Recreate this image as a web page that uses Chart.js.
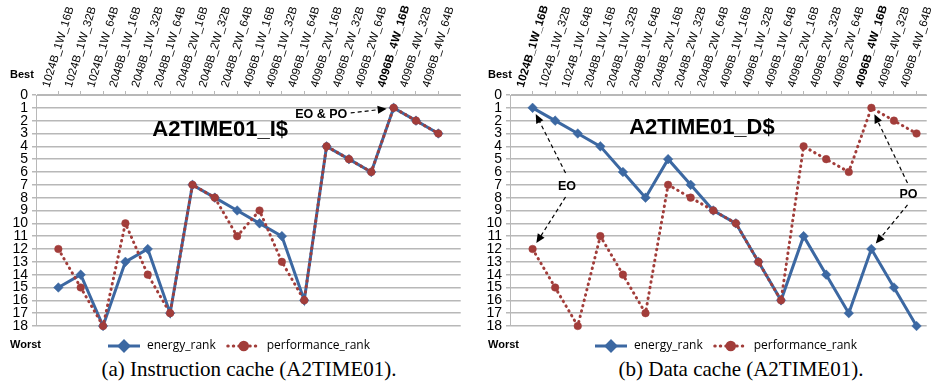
<!DOCTYPE html>
<html>
<head>
<meta charset="utf-8">
<script src="https://cdn.jsdelivr.net/npm/chart.js@4.4.1/dist/chart.umd.min.js"></script>
<style>
  body { margin: 0; background: #fff; width: 932px; height: 391px; overflow: hidden; position: relative; }
  .box { position: absolute; top: 0; width: 466px; height: 356px; }
  .cap { position: absolute; top: 357px; font: 21px "Liberation Serif"; color: #000; white-space: nowrap; transform: translateX(-50%); }
</style>
</head>
<body>
<div class="box" style="left:0"><canvas id="chartA" width="466" height="356"></canvas></div>
<div class="box" style="left:466px"><canvas id="chartB" width="466" height="356"></canvas></div>
<div class="cap" style="left:249px">(a) Instruction cache (A2TIME01).</div>
<div class="cap" style="left:741px">(b) Data cache (A2TIME01).</div>

<script>
// --- data ---
const categories = [
  "1024B_1W_16B", "1024B_1W_32B", "1024B_1W_64B",
  "2048B_1W_16B", "2048B_1W_32B", "2048B_1W_64B",
  "2048B_2W_16B", "2048B_2W_32B", "2048B_2W_64B",
  "4096B_1W_16B", "4096B_1W_32B", "4096B_1W_64B",
  "4096B_2W_16B", "4096B_2W_32B", "4096B_2W_64B",
  "4096B_4W_16B", "4096B_4W_32B", "4096B_4W_64B"
];

// instruction cache
const energyRankI = [15, 14, 18, 13, 12, 17, 7, 8, 9, 10, 11, 16, 4, 5, 6, 1, 2, 3];
const perfRankI   = [12, 15, 18, 10, 14, 17, 7, 8, 11, 9, 13, 16, 4, 5, 6, 1, 2, 3];
const boldLabelsI = [15];

// data cache
const energyRankD = [1, 2, 3, 4, 6, 8, 5, 7, 9, 10, 13, 16, 11, 14, 17, 12, 15, 18];
const perfRankD   = [12, 15, 18, 11, 14, 17, 7, 8, 9, 10, 13, 16, 4, 5, 6, 1, 2, 3];
const boldLabelsD = [0, 15];

const rankMin = 0, rankMax = 18;

const BLUE = "#3c68a2";
const RED = "#a23d3a";
const GRID = "#b8b8b8";

// --- extra drawing: title, notes, arrows, Best/Worst, legend ---
function arrow(ctx, x1, y1, x2, y2) {
  const ang = Math.atan2(y2 - y1, x2 - x1);
  const ex = x2 - Math.cos(ang) * 7, ey = y2 - Math.sin(ang) * 7;
  ctx.save();
  ctx.strokeStyle = "#000";
  ctx.lineWidth = 1.2;
  ctx.setLineDash([4, 3]);
  ctx.beginPath();
  ctx.moveTo(x1, y1);
  ctx.lineTo(ex - Math.cos(ang) * 6, ey - Math.sin(ang) * 6);
  ctx.stroke();
  ctx.setLineDash([]);
  ctx.fillStyle = "#000";
  ctx.beginPath();
  ctx.moveTo(ex, ey);
  ctx.lineTo(ex - Math.cos(ang) * 9 + Math.sin(ang) * 4, ey - Math.sin(ang) * 9 - Math.cos(ang) * 4);
  ctx.lineTo(ex - Math.cos(ang) * 9 - Math.sin(ang) * 4, ey - Math.sin(ang) * 9 + Math.cos(ang) * 4);
  ctx.closePath();
  ctx.fill();
  ctx.restore();
}

const decor = {
  id: "decor",
  afterDraw(chart, args, o) {
    const { ctx } = chart;
    const xs = chart.scales.x, ys = chart.scales.y;
    const px = p => [xs.getPixelForValue(p[0]), ys.getPixelForValue(p[1])];
    ctx.save();
    ctx.fillStyle = "#000";
    ctx.textAlign = "center";
    ctx.textBaseline = "middle";
    ctx.font = 'bold 22px "Liberation Sans"';
    const t = px(o.titleAt);
    ctx.fillText(o.title, t[0], t[1]);

    ctx.font = 'bold 12.5px "Liberation Sans"';
    o.notes.forEach(n => {
      const p = px(n.at);
      ctx.fillText(n.text, p[0], p[1]);
    });
    o.arrows.forEach(a => {
      const f = px(a[0]), e = px(a[1]);
      arrow(ctx, f[0], f[1], e[0], e[1]);
    });

    ctx.textAlign = "left";
    ctx.font = 'bold 11px "Liberation Sans"';
    ctx.fillText("Best", o.bestX, 75);
    ctx.fillText("Worst", o.bestX, 345);

    // legend
    let lx = o.legendX;
    const ly = 346;
    [0, 1].forEach(i => {
      const ds = chart.data.datasets[i];
      ctx.save();
      ctx.strokeStyle = ds.borderColor;
      ctx.lineWidth = ds.borderWidth;
      ctx.lineCap = ds.borderCapStyle || "butt";
      ctx.setLineDash(ds.borderDash || []);
      ctx.beginPath();
      ctx.moveTo(lx, ly);
      ctx.lineTo(lx + 32, ly);
      ctx.stroke();
      ctx.setLineDash([]);
      ctx.fillStyle = ds.pointBackgroundColor;
      ctx.strokeStyle = ds.pointBorderColor;
      Chart.helpers.drawPoint(ctx, { pointStyle: ds.pointStyle, radius: ds.pointRadius, borderWidth: 1, rotation: 0 }, lx + 16, ly);
      ctx.restore();
      ctx.font = '12px "Open Sans"';
      ctx.fillStyle = "#000";
      ctx.fillText(ds.label, lx + 39, ly);
      lx += 39 + ctx.measureText(ds.label).width + 12;
    });
    ctx.restore();
  }
};

function makeChart(id, energy, perf, bold, opts) {
  const ctx = document.getElementById(id).getContext("2d");
  return new Chart(ctx, {
    type: "line",
    data: {
      datasets: [{
        label: "energy_rank",
        data: energy.map((v, i) => ({ x: i + 1, y: v })),
        borderColor: BLUE,
        borderWidth: 3,
        pointStyle: "rectRot",
        pointRadius: 4.8,
        pointBackgroundColor: BLUE,
        pointBorderColor: BLUE,
        pointBorderWidth: 0.5,
        clip: false,
        order: 1
      }, {
        label: "performance_rank",
        data: perf.map((v, i) => ({ x: i + 1, y: v })),
        borderColor: RED,
        borderWidth: 3,
        borderDash: [0.5, 5],
        borderCapStyle: "round",
        pointStyle: "circle",
        pointRadius: 3.8,
        pointBackgroundColor: RED,
        pointBorderColor: RED,
        pointBorderWidth: 0.5,
        clip: false,
        order: 0
      }]
    },
    options: {
      responsive: false,
      animation: false,
      layout: { padding: { left: 0, right: opts.padRight, top: 0, bottom: 30 } },
      scales: {
        x: {
          type: "linear",
          position: "top",
          min: 0,
          max: opts.xMax,
          afterFit: s => { s.height = 95; s.paddingLeft = 0; s.paddingRight = 0; },
          afterBuildTicks: s => { s.ticks = categories.map((c, i) => ({ value: i + 1 })); },
          grid: { drawOnChartArea: false, color: GRID, tickLength: 4 },
          border: { color: GRID },
          ticks: {
            autoSkip: false,
            minRotation: 73,
            maxRotation: 73,
            padding: 2,
            labelOffset: 1,
            color: "#000",
            font: c => ({ family: "Liberation Sans", size: 11.5, weight: bold.includes(c.index) ? "bold" : "normal" }),
            callback: v => categories[v - 1]
          }
        },
        y: {
          reverse: true,
          min: rankMin,
          max: rankMax,
          afterFit: s => { s.width = opts.yWidth; s.paddingTop = 0; s.paddingBottom = 0; },
          grid: { color: GRID, lineWidth: 1.5, tickLength: 4 },
          border: { color: GRID },
          ticks: {
            stepSize: 1,
            autoSkip: false,
            padding: 4,
            color: "#000",
            font: { family: "Liberation Sans", size: 14 }
          }
        }
      },
      plugins: {
        legend: { display: false },
        tooltip: { enabled: false },
        decor: opts.decor
      }
    },
    plugins: [decor]
  });
}

makeChart("chartA", energyRankI, perfRankI, boldLabelsI, {
  padRight: 3, yWidth: 36, xMax: 19,
  decor: {
    title: "A2TIME01_I$", titleAt: [8.24, 2.73],
    notes: [{ text: "EO & PO", at: [12.76, 1.56] }],
    arrows: [[[14.08, 1.4], [16, 1]]],
    bestX: 10, legendX: 108
  }
});

makeChart("chartB", energyRankD, perfRankD, boldLabelsD, {
  padRight: 1, yWidth: 44, xMax: 18.45,
  decor: {
    title: "A2TIME01_D$", titleAt: [8.5, 2.57],
    notes: [{ text: "EO", at: [2.52, 7.17] }, { text: "PO", at: [17.64, 7.79] }],
    arrows: [
      [[2.46, 6.08], [1, 1]], [[2.46, 7.95], [1, 12]],
      [[17.6, 6.86], [16, 1]], [[17.6, 8.57], [16, 12]]
    ],
    bestX: 22, legendX: 129
  }
});
</script>
</body>
</html>
